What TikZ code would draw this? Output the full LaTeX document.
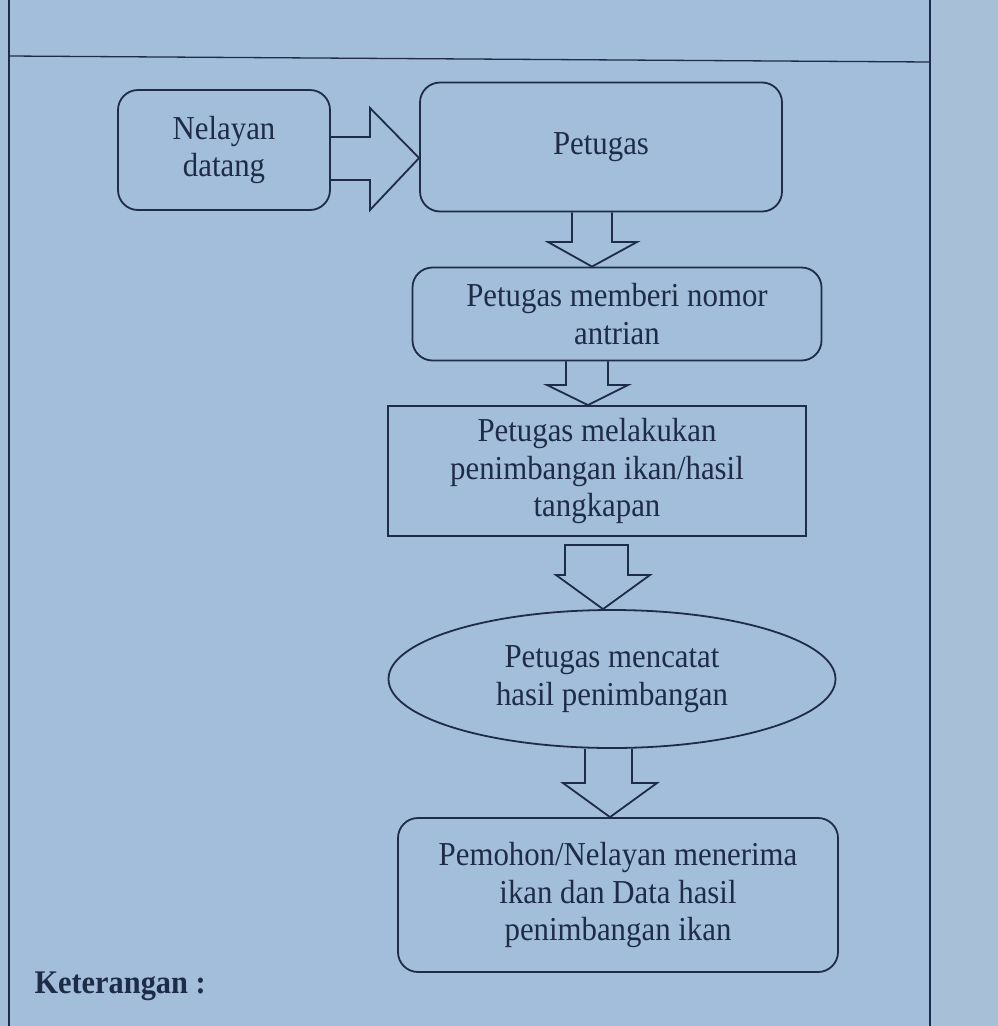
\documentclass[tikz,border=0pt]{standalone}
\usepackage{fontspec}
\setmainfont[FakeStretch=0.92]{Liberation Serif}
\usetikzlibrary{shapes.geometric,calc}
\definecolor{paper}{HTML}{A2BEDB}
\definecolor{paperr}{HTML}{A8BFD8}
\definecolor{ink}{HTML}{1F2C47}
\tikzset{
  boxbase/.style={draw=ink, line width=1.8pt, text=ink, align=center,
    font=\fontsize{33.5}{37.5}\selectfont, inner sep=0pt},
  rbox/.style={boxbase, rectangle, rounded corners=20pt},
  sbox/.style={boxbase, rectangle},
  ebox/.style={boxbase, ellipse},
  blk/.style={draw=ink, line width=1.8pt, line join=miter},
  frame/.style={draw=ink, line width=1.3pt}
}
\begin{document}
\begin{tikzpicture}[x=1pt,y=-1pt]
\fill[paper] (0,0) rectangle (998,1026);
\fill[paperr] (930,0) rectangle (998,1026);
\useasboundingbox (0,0) rectangle (998,1026);
% page frame
\coordinate (fl1) at (9,0);
\coordinate (fl2) at (9,1026);
\coordinate (fr1) at (930,0);
\coordinate (fr2) at (930,1026);
\coordinate (hl1) at (9,56);
\coordinate (hl2) at (930,62);
\draw[frame] (fl1) -- (fl2);
\draw[frame] (fr1) -- (fr2);
\draw[frame] (hl1) -- (hl2);

% nodes
\node[rbox, minimum width=212pt, minimum height=120pt] (nel) at (224,150) {Nelayan\\datang};
\node[rbox, minimum width=362pt, minimum height=129pt] (pet) at (601,147) {Petugas};
\node[rbox, minimum width=409pt, minimum height=93pt] (nom) at (617,314) {Petugas memberi nomor\\antrian};
\node[sbox, minimum width=418pt, minimum height=130pt] (tim) at (597,471) {Petugas melakukan\\penimbangan ikan/hasil\\tangkapan};
\node[ebox, minimum width=447pt, minimum height=138pt] (cat) at (612,679) {Petugas mencatat\\hasil penimbangan};
\node[rbox, minimum width=440pt, minimum height=154pt] (ter) at (618,895) {Pemohon/Nelayan menerima\\ikan dan Data hasil\\penimbangan ikan};

% right block arrow
\draw[blk] (nel.east |- 0,137) -- (370,137) -- (370,108) -- (pet.west |- 0,158)
  -- (370,210) -- (370,180) -- (nel.east |- 0,180);

% down block arrows
\draw[blk] (572,0 |- pet.south) -- (572,242) -- (548,242) -- (592,0 |- nom.north)
  -- (637,242) -- (612,242) -- (612,0 |- pet.south);
\draw[blk] (566,0 |- nom.south) -- (566,385) -- (547,385) -- (588,0 |- tim.north)
  -- (628,385) -- (608,385) -- (608,0 |- nom.south);
\draw[blk] (565,545) -- (565,575) -- (556,575) -- (603,0 |- cat.north)
  -- (650,575) -- (628,575) -- (628,545) -- cycle;
\draw[blk] (585,0 |- cat.south) -- (585,783) -- (563,783) -- (610,0 |- ter.north)
  -- (657,783) -- (632,783) -- (632,0 |- cat.south);

\node[anchor=west, text=ink, font=\fontsize{33}{37}\selectfont\bfseries] (ket) at (31,986) {Keterangan :};
\end{tikzpicture}
\end{document}
